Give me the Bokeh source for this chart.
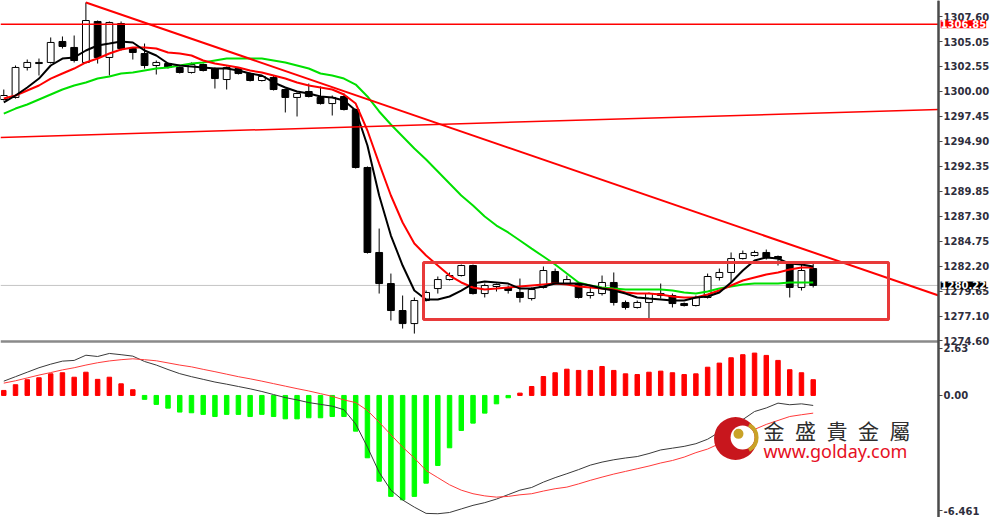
from bokeh.plotting import figure
from bokeh.models import (Range1d, FixedTicker, Label, LinearAxis,
                          PrintfTickFormatter)
from bokeh.embed import file_html
from bokeh.resources import INLINE

# ---------------- data ----------------
OPEN = [1299.18, 1299.39, 1302.45, 1302.85, 1302.96, 1305.10, 1304.49, 1302.96, 1307.14, 1303.47,
        1306.93, 1304.38, 1303.87, 1302.65, 1302.85, 1302.45, 1301.94, 1302.75, 1302.34, 1301.22,
        1302.34, 1301.83, 1301.12, 1301.43, 1300.20, 1299.39, 1300.00, 1299.39, 1298.77, 1299.49,
        1298.16, 1292.25, 1283.58, 1280.41, 1277.66, 1276.33, 1278.68, 1279.90, 1280.82, 1281.23,
        1282.25, 1279.39, 1280.11, 1280.01, 1279.50, 1278.88, 1280.01, 1281.64, 1280.41, 1280.41,
        1279.19, 1279.39, 1280.52, 1278.48, 1277.97, 1278.48, 1279.19, 1279.19, 1278.37, 1278.17,
        1278.99, 1281.03, 1281.54, 1282.96, 1283.27, 1283.58, 1283.17, 1282.45, 1280.01, 1281.94]
HIGH = [1300.20, 1302.65, 1303.26, 1303.36, 1305.51, 1305.61, 1305.71, 1309.08, 1307.24, 1307.14,
        1307.14, 1304.49, 1304.89, 1303.16, 1302.96, 1302.55, 1302.96, 1302.85, 1302.45, 1302.55,
        1302.45, 1301.94, 1301.63, 1301.63, 1300.30, 1299.90, 1300.81, 1300.51, 1299.59, 1299.79,
        1298.26, 1292.35, 1286.02, 1281.43, 1279.19, 1278.99, 1279.70, 1281.13, 1281.54, 1282.35,
        1282.35, 1280.41, 1280.41, 1280.21, 1280.92, 1280.01, 1282.15, 1281.94, 1281.23, 1280.52,
        1280.21, 1281.23, 1281.54, 1278.68, 1278.68, 1279.50, 1280.41, 1279.39, 1278.48, 1279.19,
        1281.43, 1281.94, 1283.58, 1283.78, 1283.78, 1283.88, 1283.27, 1282.56, 1282.45, 1282.45]
LOW = [1299.08, 1299.28, 1302.14, 1301.63, 1302.85, 1304.38, 1302.96, 1302.85, 1302.85, 1301.63,
       1304.18, 1303.26, 1302.34, 1301.73, 1302.34, 1301.83, 1301.83, 1302.04, 1300.30, 1300.20,
       1301.73, 1301.02, 1301.02, 1300.10, 1297.86, 1297.45, 1299.39, 1298.67, 1297.55, 1298.06,
       1292.14, 1283.47, 1279.39, 1276.64, 1275.82, 1275.31, 1278.58, 1279.39, 1280.72, 1281.13,
       1279.29, 1278.99, 1279.60, 1279.39, 1278.48, 1278.68, 1279.90, 1280.31, 1280.31, 1278.88,
       1278.88, 1279.19, 1278.17, 1277.76, 1277.86, 1276.84, 1278.88, 1277.97, 1278.07, 1278.07,
       1278.88, 1280.72, 1280.52, 1282.86, 1283.17, 1282.86, 1282.25, 1278.99, 1279.70, 1280.01]
CLOSE = [1299.59, 1302.45, 1302.96, 1302.96, 1305.00, 1304.59, 1303.16, 1307.24, 1303.47, 1307.04,
         1304.38, 1303.98, 1302.65, 1302.96, 1302.45, 1301.94, 1302.75, 1302.14, 1301.32, 1302.45,
         1301.83, 1301.12, 1301.53, 1300.20, 1299.39, 1299.79, 1299.49, 1298.77, 1299.39, 1298.16,
         1292.25, 1283.58, 1280.41, 1277.66, 1276.33, 1278.68, 1279.50, 1280.82, 1281.23, 1282.25,
         1279.39, 1280.21, 1280.31, 1279.70, 1278.99, 1279.80, 1281.74, 1280.41, 1280.82, 1278.99,
         1279.50, 1280.52, 1278.48, 1277.97, 1278.48, 1279.39, 1279.39, 1278.37, 1278.17, 1278.99,
         1281.13, 1281.54, 1282.96, 1283.47, 1283.58, 1283.07, 1282.96, 1280.01, 1281.74, 1280.22]

MA_FAST = [1298.88, 1299.59, 1300.41, 1301.32, 1302.65, 1303.36, 1303.47, 1304.18, 1304.69, 1304.89,
           1305.10, 1305.00, 1304.18, 1303.67, 1302.85, 1302.65, 1302.55, 1302.45, 1302.34, 1302.34,
           1302.14, 1301.83, 1301.63, 1300.92, 1300.41, 1300.00, 1299.79, 1299.49, 1299.39, 1299.08,
           1298.06, 1294.49, 1289.39, 1285.31, 1282.25, 1279.70, 1278.78, 1278.78, 1279.09, 1279.70,
           1280.41, 1280.62, 1280.52, 1280.41, 1279.90, 1279.90, 1280.11, 1280.41, 1280.41, 1280.41,
           1280.21, 1279.90, 1279.70, 1279.39, 1278.99, 1278.88, 1278.78, 1278.68, 1278.68, 1278.99,
           1279.09, 1279.50, 1280.52, 1281.74, 1282.76, 1283.07, 1282.96, 1282.45, 1282.35, 1282.15]
MA_MID = [1299.28, 1299.59, 1300.10, 1300.61, 1301.32, 1301.83, 1302.34, 1302.96, 1303.36, 1303.87,
          1304.28, 1304.49, 1304.49, 1304.38, 1303.98, 1303.87, 1303.67, 1303.16, 1302.85, 1302.65,
          1302.45, 1302.14, 1301.94, 1301.63, 1301.32, 1300.92, 1300.61, 1300.41, 1300.20, 1299.69,
          1298.77, 1296.02, 1292.65, 1289.39, 1286.64, 1284.49, 1283.27, 1282.25, 1281.23, 1280.52,
          1280.01, 1279.80, 1279.90, 1280.01, 1280.11, 1280.21, 1280.31, 1280.41, 1280.31, 1280.11,
          1280.01, 1279.90, 1279.80, 1279.50, 1279.39, 1279.39, 1279.29, 1279.09, 1278.99, 1278.99,
          1279.29, 1279.70, 1280.21, 1280.72, 1281.03, 1281.33, 1281.54, 1281.84, 1282.05, 1282.05]
MA_SLOW = [1297.75, 1298.26, 1298.67, 1299.18, 1299.69, 1300.20, 1300.61, 1300.92, 1301.32, 1301.53,
           1301.83, 1301.94, 1302.14, 1302.34, 1302.45, 1302.65, 1302.85, 1302.96, 1303.16, 1303.36,
           1303.36, 1303.36, 1303.36, 1303.16, 1302.96, 1302.65, 1302.34, 1301.83, 1301.63, 1301.32,
           1300.71, 1299.49, 1297.96, 1296.63, 1295.41, 1294.18, 1293.06, 1291.84, 1290.61, 1289.39,
           1288.37, 1287.25, 1286.33, 1285.62, 1284.80, 1283.98, 1283.17, 1282.35, 1281.43, 1280.52,
           1280.21, 1280.01, 1279.90, 1279.80, 1279.80, 1279.80, 1279.80, 1279.70, 1279.50, 1279.39,
           1279.60, 1279.90, 1280.11, 1280.31, 1280.41, 1280.41, 1280.41, 1280.52, 1280.52, 1280.52]

MACD_HIST = [0.28, 0.60, 0.88, 0.99, 1.21, 1.27, 1.02, 1.30, 0.90, 1.02,
             0.65, 0.32, -0.22, -0.50, -0.71, -0.93, -0.97, -1.06, -1.18, -1.06,
             -1.06, -1.18, -1.06, -1.18, -1.31, -1.31, -1.25, -1.25, -1.18, -1.18,
             -2.00, -3.49, -4.80, -5.65, -5.84, -5.65, -4.91, -3.92, -2.93, -1.96,
             -1.55, -0.99, -0.47, -0.13, 0.13, 0.50, 1.06, 1.27, 1.47, 1.40,
             1.40, 1.62, 1.40, 1.21, 1.17, 1.30, 1.36, 1.27, 1.17, 1.21,
             1.58, 1.81, 2.11, 2.28, 2.37, 2.24, 1.96, 1.44, 1.27, 0.88]
MACD_LINE = [0.80, 1.05, 1.30, 1.55, 1.75, 1.92, 1.96, 2.25, 2.18, 2.35,
             2.28, 2.20, 1.90, 1.70, 1.45, 1.22, 1.05, 0.90, 0.75, 0.63,
             0.50, 0.37, 0.22, 0.05, -0.12, -0.25, -0.40, -0.50, -0.60, -0.80,
             -1.60, -2.89, -4.30, -5.30, -5.85, -6.25, -6.60, -6.62, -6.55, -6.35,
             -6.15, -6.00, -5.80, -5.55, -5.30, -5.15, -4.85, -4.60, -4.38, -4.15,
             -3.90, -3.73, -3.60, -3.50, -3.42, -3.25, -3.05, -2.95, -2.85, -2.70,
             -2.45, -2.05, -1.70, -1.35, -0.90, -0.70, -0.43, -0.52, -0.47, -0.56]
SIGNAL_LINE = [0.69, 0.82, 0.98, 1.14, 1.28, 1.43, 1.55, 1.70, 1.83, 1.93,
               2.00, 2.05, 2.00, 1.94, 1.82, 1.70, 1.60, 1.46, 1.33, 1.19,
               1.05, 0.93, 0.80, 0.66, 0.52, 0.38, 0.25, 0.10, -0.05, -0.25,
               -0.40, -0.84, -1.50, -2.20, -2.89, -3.50, -4.20, -4.60, -5.00, -5.30,
               -5.50, -5.62, -5.69, -5.65, -5.56, -5.50, -5.35, -5.22, -5.13, -4.95,
               -4.75, -4.57, -4.40, -4.25, -4.10, -3.95, -3.78, -3.64, -3.45, -3.20,
               -3.00, -2.70, -2.45, -2.20, -1.90, -1.62, -1.40, -1.18, -1.08, -0.99]

PRICE_TICKS = [1274.60, 1277.10, 1279.65, 1282.20, 1284.75, 1287.30, 1289.85,
               1292.35, 1294.90, 1297.45, 1300.00, 1302.55, 1305.05, 1307.60]
MACD_TICKS = [-6.461, 0.00, 2.63]
MACD_TICK_LABELS = ["-6.461", "0.00", "2.63"]

HLINE_PRICE = 1306.85
TREND_DOWN_X = [7, 79.69]
TREND_DOWN_Y = [1309.08, 1279.19]
TREND_UP_X = [-0.28, 79.69]
TREND_UP_Y = [1295.31, 1298.16]
BOX_LEFT, BOX_RIGHT, BOX_TOP, BOX_BOTTOM = 35.78, 75.42, 1282.56, 1276.74

# ---------------- layout (one frame, two stacked panels) ----------------
X_START, X_AXIS, X_END = -0.28, 79.69, 84.37        # axis sits at X_AXIS
PRICE_RANGE = (1256.55, 1309.28)                    # upper panel part of the frame
MACD_RANGE = (-6.83, 22.10)                         # lower panel part of the frame
PANEL_SPLIT_PRICE = 1274.50
AX_FONT = "DejaVu Sans"
AX_SIZE = "10px"
idx = list(range(len(CLOSE)))

p = figure(frame_width=993, frame_height=517, x_range=Range1d(X_START, X_END),
           y_range=Range1d(*PRICE_RANGE), output_backend="svg", toolbar_location=None,
           x_axis_location=None, y_axis_location=None, min_border=0,
           outline_line_color=None)
p.extra_y_ranges = {"macd": Range1d(*MACD_RANGE)}
p.grid.visible = False


def make_axis(range_name, ticks):
    ax = LinearAxis(y_range_name=range_name, fixed_location=X_AXIS,
                    ticker=FixedTicker(ticks=ticks))
    ax.axis_line_color = "#4a4a4a"
    ax.axis_line_width = 2
    ax.major_tick_out = 4
    ax.major_tick_in = 0
    ax.minor_tick_out = 0
    ax.minor_tick_in = 0
    ax.major_tick_line_color = "#4a4a4a"
    ax.major_label_text_font = AX_FONT
    ax.major_label_text_font_size = AX_SIZE
    ax.major_label_text_font_style = "bold"
    ax.major_label_text_color = "#2e2e3c"
    ax.major_label_standoff = 1
    return ax


price_axis = make_axis("default", PRICE_TICKS)
price_axis.formatter = PrintfTickFormatter(format="%.2f")
p.add_layout(price_axis, "right")
macd_axis = make_axis("macd", MACD_TICKS)
macd_axis.major_label_overrides = {t: s for t, s in zip(MACD_TICKS, MACD_TICK_LABELS)}
p.add_layout(macd_axis, "right")

# ---------------- price panel ----------------
p.line([X_START, X_AXIS], [CLOSE[-1], CLOSE[-1]], line_color="#c4c4c4", line_width=1)
p.line([X_START, X_AXIS], [PANEL_SPLIT_PRICE, PANEL_SPLIT_PRICE], line_color="#8a8a8a",
       line_width=2.5)

body_top = [max(o, c) for o, c in zip(OPEN, CLOSE)]
body_bot = [min(o, c) for o, c in zip(OPEN, CLOSE)]
fills = ["white" if c >= o else "black" for o, c in zip(OPEN, CLOSE)]
p.segment(x0=idx, y0=LOW, x1=idx, y1=HIGH, line_color="black", line_width=1)
p.vbar(x=idx, width=0.58, top=body_top, bottom=body_bot, fill_color=fills,
       line_color="black", line_width=1)

p.line(idx, MA_SLOW, line_color="#00e000", line_width=2)
p.line(idx, MA_MID, line_color="#ff0000", line_width=2)
p.line(idx, MA_FAST, line_color="black", line_width=2)

p.line([X_START, X_AXIS], [HLINE_PRICE, HLINE_PRICE], line_color="#ff0000", line_width=1.5)
p.line(TREND_DOWN_X, TREND_DOWN_Y, line_color="#ff0000", line_width=2)
p.line(TREND_UP_X, TREND_UP_Y, line_color="#ff0000", line_width=1.5)
p.quad(left=[BOX_LEFT], right=[BOX_RIGHT], top=[BOX_TOP], bottom=[BOX_BOTTOM],
       fill_color=None, line_color="#e83a3a", line_width=3)

for price, bg in ((HLINE_PRICE, "#ff0000"), (CLOSE[-1], "black")):
    p.add_layout(Label(x=X_AXIS, y=price, x_offset=2, text=f"{price:.2f}",
                       text_color="white", background_fill_color=bg,
                       text_font=AX_FONT, text_font_size=AX_SIZE, text_font_style="bold",
                       text_baseline="middle", text_align="left"))

# ---------------- MACD panel ----------------
hist_colors = ["#ff0000" if h >= 0 else "#00ff00" for h in MACD_HIST]
p.vbar(x=idx, width=0.38, top=MACD_HIST, bottom=0, fill_color=hist_colors,
       line_color=hist_colors, y_range_name="macd")
p.line(idx, MACD_LINE, line_color="#3a3a3a", line_width=1, y_range_name="macd")
p.line(idx, SIGNAL_LINE, line_color="#ff3a3a", line_width=1, y_range_name="macd")

# watermark logo
p.scatter([62.38], [-2.41], marker="circle", size=43, fill_color="#c8161d", line_color=None,
          y_range_name="macd")
p.scatter([62.98], [-2.35], marker="circle", size=24, fill_color="white", line_color=None,
          y_range_name="macd")
p.annular_wedge(x=[62.98], y=[-2.35], inner_radius=12, outer_radius=16,
                inner_radius_units="screen", outer_radius_units="screen",
                start_angle=-1.1, end_angle=1.1, fill_color="#c9a227", line_color=None,
                y_range_name="macd")
p.scatter([62.63], [-2.15], marker="circle", size=10, fill_color="#c9a227", line_color=None,
          y_range_name="macd")
p.add_layout(Label(x=64.76, y=-1.96, y_range_name="macd",
                   text="金\u2002盛\u2002貴\u2002金\u2002屬", text_color="#2e2e2e",
                   text_font="Noto Sans CJK TC", text_font_size="21px",
                   text_baseline="middle", text_align="left"))
p.add_layout(Label(x=64.76, y=-3.10, y_range_name="macd", text="www.golday.com",
                   text_color="#e60f23", text_font="Noto Sans", text_font_size="18px",
                   text_baseline="middle", text_align="left"))

open("out.html", "w").write(file_html(p, INLINE))
